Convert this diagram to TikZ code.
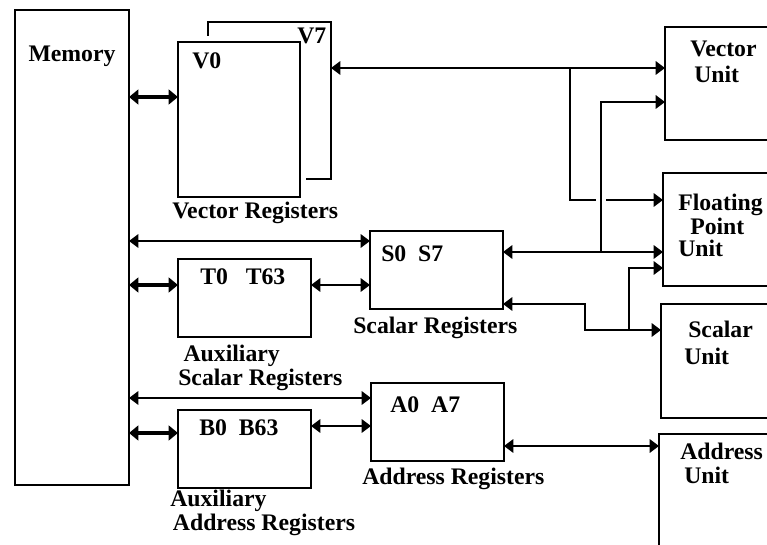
\documentclass[tikz,border=0pt]{standalone}
\usepackage{fontspec}
\setmainfont{Liberation Serif}
\usetikzlibrary{arrows.meta}

\begin{document}
\begin{tikzpicture}[
  x=0.75pt,y=-0.75pt,
  every node/.style={font=\bfseries\fontsize{17.8}{18}\selectfont,inner sep=0pt},
  box/.style={draw,line width=1.5pt,anchor=north west,outer sep=0pt},
  txt/.style={anchor=base west,align=left},
  bus/.style={line width=2.2pt,
    {Triangle[length=7pt,width=10pt]}-{Triangle[length=7pt,width=10pt]}},
  wide/.style={line width=3.6pt,
    {Triangle[length=7pt,width=11pt]}-{Triangle[length=7pt,width=11pt]}},
  feed/.style={line width=2.2pt,-{Triangle[length=7pt,width=10pt]}}
]
  \useasboundingbox (0,0) rectangle (767,545);
  \clip (0,0) rectangle (767,545);

  % Memory on the left.
  \node[box,minimum width=85.5pt,minimum height=356.25pt] (mem) at (15,10) {};
  \node[anchor=base] (memlbl) at (72,62) {Memory};

  % Vector registers, V0 in front of V7.
  \node[box,minimum width=92.25pt,minimum height=117.75pt] (v7) at (208,22) {};
  \node[box,fill=white,preaction={draw=white,line width=9pt},
    minimum width=91.5pt,minimum height=116.25pt] (v0) at (178,42) {};
  \node[txt] (v0lbl) at (192,69) {V0};
  \node[txt] (v7lbl) at (297,44) {V7};
  \node[txt] (vreglbl) at (172,219) {Vector Registers};

  % Scalar and auxiliary scalar registers.
  \node[box,minimum width=99.75pt,minimum height=58.5pt] (sreg) at (370,231) {};
  \node[txt] (slbl) at (381,262) {S0\ \ S7};
  \node[txt] (sreglbl) at (353,333) {Scalar Registers};
  \node[box,minimum width=99.75pt,minimum height=58.5pt] (treg) at (178,259) {};
  \node[txt] (tlbl) at (200,285) {T0\ \ \ T63};
  \node[txt] (treglbl) at (178,385) {\hspace{4pt}Auxiliary\\Scalar Registers};

  % Address and auxiliary address registers.
  \node[box,minimum width=99.75pt,minimum height=58.5pt] (areg) at (371,383) {};
  \node[txt] (albl) at (390,412) {A0\ \ A7};
  \node[txt] (areglbl) at (362,484) {Address Registers};
  \node[box,minimum width=99.75pt,minimum height=58.5pt] (breg) at (178,410) {};
  \node[txt] (blbl) at (199,435) {B0\ \ B63};
  \node[txt] (breglbl) at (170,530) {Auxiliary\\\hspace{2pt}Address Registers};

  % Functional units on the right.
  \node[box,minimum width=90pt,minimum height=84.75pt] (vu) at (665,27) {};
  \node[txt] (vulbl) at (690,83) {Vector\\[1.5pt]\hspace{3pt}Unit};
  \node[box,minimum width=90pt,minimum height=84.75pt] (fpu) at (663,173) {};
  \node[txt] (fpulbl) at (678,257) {Floating\\\hspace{9pt}Point\\[-1.5pt]Unit};
  \node[box,minimum width=90pt,minimum height=85.5pt] (su) at (661,304) {};
  \node[txt] (sulbl) at (688,364) {Scalar\\[2pt]\hspace{-3pt}Unit};
  \node[box,minimum width=90pt,minimum height=97.5pt] (au) at (659,434) {};
  \node[txt] (aulbl) at (680,483) {Address\\\hspace{3pt}Unit};

  % Memory ports.
  \draw[wide] (mem.east |- 0,97) -- (v0.west |- 0,97);
  \draw[bus] (mem.east |- 0,241) -- (sreg.west |- 0,241);
  \draw[wide] (mem.east |- 0,285) -- (treg.west |- 0,285);
  \draw[bus] (mem.east |- 0,398) -- (areg.west |- 0,398);
  \draw[wide] (mem.east |- 0,433) -- (breg.west |- 0,433);

  % Register to register.
  \draw[bus] (treg.east |- 0,285) -- (sreg.west |- 0,285);
  \draw[bus] (breg.east |- 0,426) -- (areg.west |- 0,426);

  % Vector registers to the units.
  \coordinate (vtap) at (570,68);
  \draw[bus] (v7.east |- vtap) -- (vu.west |- vtap);
  \draw[feed] (vtap) |- (fpu.west |- 0,200);
  \draw[white,line width=7pt] (601,194) -- (601,206);

  % Scalar registers to the units.
  \coordinate (stap) at (601,252);
  \draw[feed] (stap) |- (vu.west |- 0,102);
  \draw[bus] (sreg.east |- stap) -- (fpu.west |- stap);
  \coordinate (sbend) at (585,304);
  \coordinate (sutap) at (629,330);
  \draw[bus] (sreg.east |- sbend) -- (sbend) |- (su.west |- sutap);
  \draw[feed] (sutap) |- (fpu.west |- 0,268);

  % Address registers to the address unit.
  \draw[bus] (areg.east |- 0,446) -- (au.west |- 0,446);
\end{tikzpicture}
\end{document}
